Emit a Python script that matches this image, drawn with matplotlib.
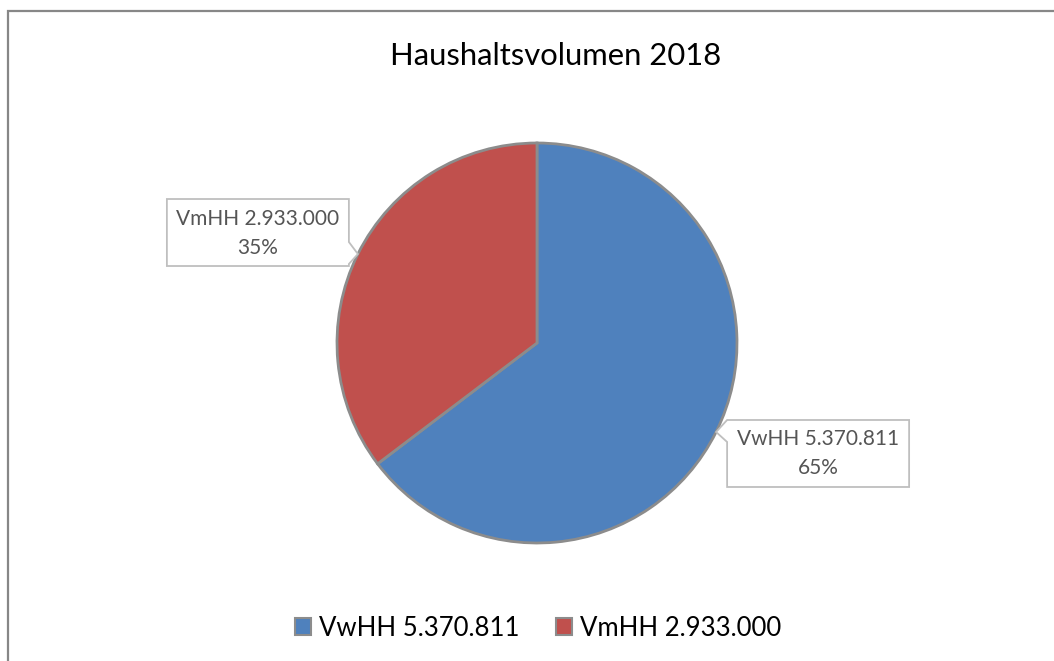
import numpy as np
import matplotlib.pyplot as plt
from matplotlib.patches import Polygon, Rectangle

# data
names = ["VwHH", "VmHH"]
values = [5370811, 2933000]
colors = ["#4F81BD", "#C0504D"]
title = "Haushaltsvolumen 2018"

def fmt(v):
    return f"{v:,}".replace(",", ".")

labels = [f"{n} {fmt(v)}" for n, v in zip(names, values)]
total = sum(values)
pcts = [round(100 * v / total) for v in values]

plt.rcParams['font.family'] = ['Lato', 'DejaVu Sans']

W, H = 1054, 661
fig = plt.figure(figsize=(W / 100, H / 100), dpi=100)
ax = fig.add_axes([0, 0, 1, 1])

# outer chart frame (right/bottom cut off)
ax.add_patch(Rectangle((7.5, -20), W + 40, H - 10.5 + 20, fill=False,
                       edgecolor="#878787", linewidth=1.6))

cx, cy, r = 537, H - 343, 200
wedges, _ = ax.pie(values, colors=colors, startangle=90, counterclock=False,
                   center=(cx, cy), radius=r, frame=True,
                   wedgeprops=dict(edgecolor="#8C8C8C", linewidth=2))
ax.set_xlim(0, W)
ax.set_ylim(0, H)
ax.set_aspect('equal')
ax.axis('off')

ax.text(556, H - 56, title, ha='center', va='center', fontsize=22.3,
        color="#000000")

# callout labels
box_w, box_h = 182, 67
for i, w in enumerate(wedges):
    ang = np.deg2rad((w.theta1 + w.theta2) / 2)
    tx, ty = cx + r * np.cos(ang), cy + r * np.sin(ang)
    if np.cos(ang) < 0:
        # box to the left, notch on right edge
        x1 = tx - 9
        x0 = x1 - box_w
        y0 = ty - 12
        y1 = y0 + box_h
        pts = [(x0, y0), (x1, y0), (x1, ty - 10), (tx, ty), (x1, ty + 12),
               (x1, y1), (x0, y1)]
    else:
        x0 = tx + 11
        x1 = x0 + box_w
        y1 = ty + 12
        y0 = y1 - box_h
        pts = [(x0, y0), (x1, y0), (x1, y1), (x0, y1), (tx, ty),
               (x0, ty - 10)]
    ax.add_patch(Polygon(pts, closed=True, facecolor="white",
                         edgecolor="#BFBFBF", linewidth=1.3, zorder=5))
    xm, ym = (x0 + x1) / 2, (y0 + y1) / 2
    ax.text(xm, ym + 14, labels[i], ha='center', va='center', fontsize=15,
            color="#555555", zorder=6)
    ax.text(xm, ym - 15, f"{pcts[i]}%", ha='center', va='center', fontsize=15,
            color="#555555", zorder=6)

# legend
leg = ax.legend(wedges, labels, loc='center', bbox_to_anchor=(538 / W, 1 - 628 / H),
                ncol=2, frameon=False, fontsize=18.5, handlelength=0.65,
                handleheight=0.65, handletextpad=0.3, columnspacing=1.4)
for h in leg.legend_handles:
    h.set_edgecolor("#8C8C8C")
    h.set_linewidth(1.5)

fig.savefig("out.png", dpi=100)
